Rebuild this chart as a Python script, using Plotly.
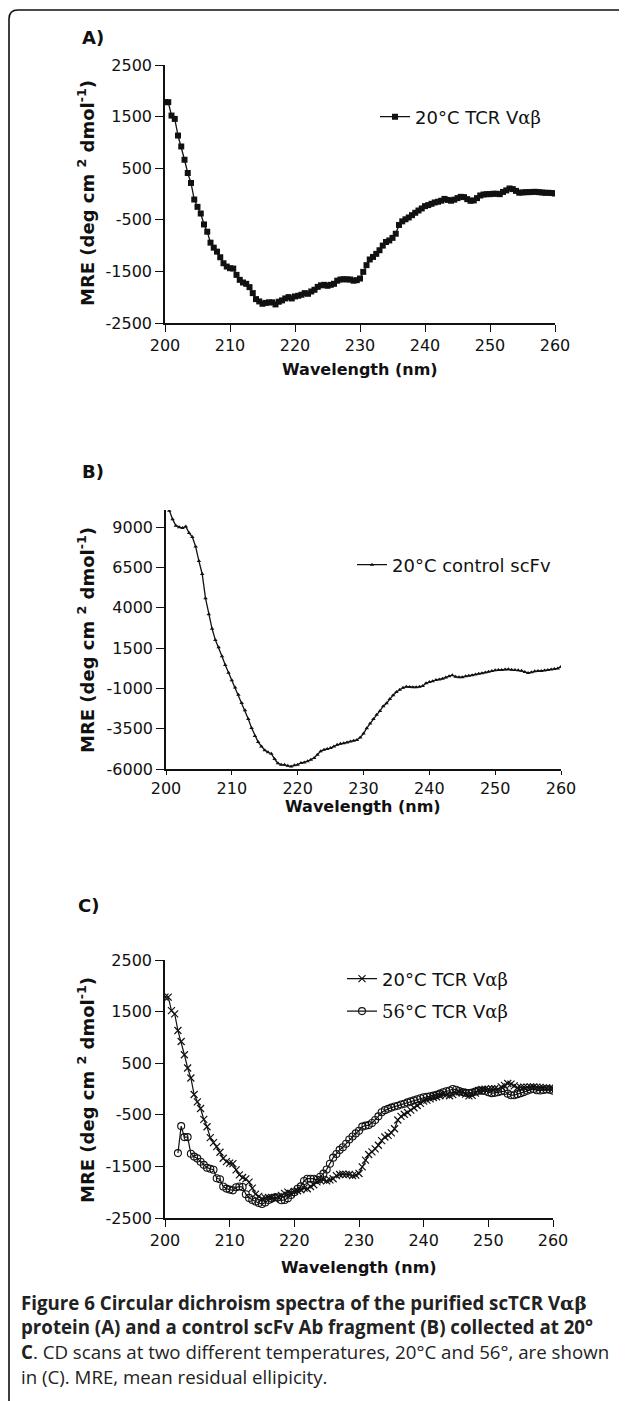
import plotly.graph_objects as go

# ---------------- data ----------------
WAVELENGTH = [200.0, 200.5, 201.0, 201.5, 202.0, 202.5, 203.0, 203.5, 204.0, 204.5,
              205.0, 205.5, 206.0, 206.5, 207.0, 207.5, 208.0, 208.5, 209.0, 209.5,
              210.0, 210.5, 211.0, 211.5, 212.0, 212.5, 213.0, 213.5, 214.0, 214.5,
              215.0, 215.5, 216.0, 216.5, 217.0, 217.5, 218.0, 218.5, 219.0, 219.5,
              220.0, 220.5, 221.0, 221.5, 222.0, 222.5, 223.0, 223.5, 224.0, 224.5,
              225.0, 225.5, 226.0, 226.5, 227.0, 227.5, 228.0, 228.5, 229.0, 229.5,
              230.0, 230.5, 231.0, 231.5, 232.0, 232.5, 233.0, 233.5, 234.0, 234.5,
              235.0, 235.5, 236.0, 236.5, 237.0, 237.5, 238.0, 238.5, 239.0, 239.5,
              240.0, 240.5, 241.0, 241.5, 242.0, 242.5, 243.0, 243.5, 244.0, 244.5,
              245.0, 245.5, 246.0, 246.5, 247.0, 247.5, 248.0, 248.5, 249.0, 249.5,
              250.0, 250.5, 251.0, 251.5, 252.0, 252.5, 253.0, 253.5, 254.0, 254.5,
              255.0, 255.5, 256.0, 256.5, 257.0, 257.5, 258.0, 258.5, 259.0, 259.5,
              260.0]

TCR_20C = [1780, 1780, 1520, 1455, 1133, 921, 664, 407, 214, -107,
           -249, -378, -590, -731, -943, -1040, -1117, -1226, -1342, -1406,
           -1438, -1445, -1567, -1664, -1715, -1741, -1805, -1921, -2037, -2082,
           -2127, -2110, -2100, -2100, -2140, -2088, -2062, -2024, -1998, -2024,
           -1985, -1972, -1953, -1921, -1934, -1889, -1856, -1800, -1770, -1760,
           -1779, -1760, -1740, -1680, -1657, -1651, -1655, -1657, -1680, -1670,
           -1638, -1509, -1379, -1269, -1220, -1160, -1090, -1000, -930, -900,
           -850, -770, -600, -530, -490, -455, -410, -364, -320, -280,
           -235, -215, -190, -164, -150, -130, -95, -115, -130, -110,
           -80, -55, -60, -100, -132, -125, -80, -29, -10, -3,
           -3, 5, 5, -3, 40, 70, 107, 95, 60, 25,
           30, 36, 36, 40, 42, 36, 30, 23, 23, 18,
           10]

SCFV_20C = [10600, 10030, 9500, 9100, 9000, 8950, 9050, 8650, 8400, 7800,
            6900, 6100, 4600, 3600, 2700, 2000, 1550, 1000, 450, -30,
            -500, -950, -1400, -1900, -2350, -2900, -3450, -3950, -4330, -4600,
            -4830, -4960, -5050, -5380, -5650, -5730, -5740, -5800, -5850, -5770,
            -5730, -5630, -5590, -5520, -5420, -5320, -5110, -4900, -4800, -4760,
            -4700, -4600, -4500, -4440, -4400, -4350, -4290, -4250, -4200, -4050,
            -3800, -3470, -3180, -2900, -2640, -2400, -2100, -1920, -1650, -1420,
            -1220, -1080, -960, -890, -910, -925, -925, -900, -850, -680,
            -600, -550, -480, -440, -400, -330, -240, -180, -280, -305,
            -300, -250, -210, -180, -130, -90, -56, -10, 40, 87,
            120, 150, 150, 170, 190, 155, 140, 120, 90, 20,
            -50, 0, 60, 87, 87, 110, 150, 180, 200, 240,
            350]

TCR_56C = [-1242, -719, -932, -932, -1254, -1310,
           -1345, -1410, -1470, -1525, -1545, -1564, -1730, -1750, -1890, -1930,
           -1950, -1964, -1905, -1890, -1900, -2040, -2110, -2150, -2180, -2210,
           -2230, -2200, -2150, -2120, -2100, -2100, -2157, -2150, -2115, -2055,
           -2000, -1932, -1887, -1783, -1738, -1738, -1738, -1758, -1700, -1640,
           -1560, -1450, -1330, -1260, -1180, -1130, -1060, -980, -920, -860,
           -810, -730, -710, -700, -660, -600, -530, -450, -410, -385,
           -360, -340, -325, -300, -285, -260, -240, -220, -200, -180,
           -160, -150, -140, -129, -110, -90, -64, -45, -30, 0,
           -15, -40, -60, -75, -80, -70, -50, -32, -32, -40,
           -64, -80, -75, -64, -45, -40, -90, -120, -120, -100,
           -80, -60, -35, -10, 0, -25, -30, -19, -10, -15,
           -32]
WAVELENGTH_56C = WAVELENGTH[4:]

X_TICKS = [200, 210, 220, 230, 240, 250, 260]
Y_TICKS_A = [2500, 1500, 500, -500, -1500, -2500]
Y_TICKS_B = [9000, 6500, 4000, 1500, -1000, -3500, -6000]
Y_TICKS_C = [2500, 1500, 500, -500, -1500, -2500]

GREEK = "<span style='font-family:DejaVu Serif'>αβ</span>"
LEG_A = "20°C TCR V" + GREEK
LEG_B = "20°C control scFv"
LEG_C1 = "20°C TCR V" + GREEK
LEG_C2 = "<span style='font-family:DejaVu Serif'>56</span>°C TCR V" + GREEK

# ---------------- layout helpers (page pixel -> paper) ----------------
# the page body has an 8 px default margin, so the figure starts at (8, 8)
OFF = 8
W, H = 619, 1393
def fx(p):
    return (p - OFF) / W
def fy(p):
    return 1 - (p - OFF) / H

SANS = "DejaVu Sans"
AX_FONT = dict(family=SANS, size=16, color="#111")
INK = "#111"

fig = go.Figure()

fig.add_trace(go.Scatter(x=WAVELENGTH, y=TCR_20C, mode="lines+markers", name=LEG_A,
                         line=dict(color=INK, width=1.3),
                         marker=dict(symbol="square", size=6, color=INK),
                         xaxis="x", yaxis="y", legend="legend"))
fig.add_trace(go.Scatter(x=WAVELENGTH, y=SCFV_20C, mode="lines+markers", name=LEG_B,
                         line=dict(color=INK, width=1.3),
                         marker=dict(symbol="triangle-up", size=4, color=INK),
                         xaxis="x2", yaxis="y2", legend="legend2"))
fig.add_trace(go.Scatter(x=WAVELENGTH, y=TCR_20C, mode="lines+markers", name=LEG_C1,
                         line=dict(color=INK, width=1.2),
                         marker=dict(symbol="x-thin", size=7, color=INK,
                                     line=dict(color=INK, width=1.2)),
                         xaxis="x3", yaxis="y3", legend="legend3", legendgroup="g1"))
fig.add_trace(go.Scatter(x=WAVELENGTH_56C, y=TCR_56C, mode="lines+markers", name=LEG_C2,
                         line=dict(color=INK, width=1.2),
                         marker=dict(symbol="circle-open", size=7, color=INK,
                                     line=dict(color=INK, width=1.1)),
                         xaxis="x3", yaxis="y3", legend="legend3", legendgroup="g2"))

def xax(left, right, anchor, tlen=7):
    return dict(domain=[fx(left), fx(right)], range=[200, 260], anchor=anchor,
                tickmode="array", tickvals=X_TICKS, ticktext=[str(v) for v in X_TICKS],
                ticks="outside", ticklen=tlen,
                tickwidth=1.4, tickcolor=INK, showline=True, linecolor=INK,
                linewidth=1.6, showgrid=False, zeroline=False, tickfont=AX_FONT,
                automargin=False, fixedrange=True)

def yax(top, bottom, rng, ticks, anchor):
    return dict(domain=[fy(bottom), fy(top)], range=rng, anchor=anchor,
                tickmode="array", tickvals=ticks, ticktext=[str(v) for v in ticks],
                ticks="outside", ticklen=8,
                tickwidth=1.4, tickcolor=INK, showline=True, linecolor=INK,
                linewidth=1.6, showgrid=False, zeroline=False, tickfont=AX_FONT,
                automargin=False, fixedrange=True)

fig.update_layout(
    template="none",
    width=W, height=H, margin=dict(l=0, r=0, t=0, b=0, pad=0, autoexpand=False),
    paper_bgcolor="white", plot_bgcolor="rgba(0,0,0,0)", showlegend=True,
    xaxis=xax(165, 555, "y"), yaxis=yax(65, 323, [-2500, 2500], Y_TICKS_A, "x"),
    xaxis2=xax(166, 561, "y2", tlen=4), yaxis2=yax(510, 769, [-6000, 10070], Y_TICKS_B, "x2"),
    xaxis3=xax(165, 553, "y3"), yaxis3=yax(960, 1218, [-2500, 2500], Y_TICKS_C, "x3"),
)

LEG_FONT = dict(family=SANS, size=18, color="#111")
def legend(xp, yp, gap=0):
    return dict(x=fx(xp), y=fy(yp), xanchor="left", yanchor="middle",
                bgcolor="rgba(0,0,0,0)", font=LEG_FONT, tracegroupgap=gap,
                itemwidth=30, borderwidth=0)
fig.update_layout(legend=legend(375, 117), legend2=legend(352, 565),
                  legend3=legend(342, 995, gap=6))

ann = []
TITLE_FONT = dict(family=SANS, size=18, color="#111")
YT = "<b>MRE (deg cm <sup>2</sup> dmol<sup>-1</sup>)</b>"
for (xc, yc) in [(86, 193), (86, 640), (86, 1090)]:
    ann.append(dict(text=YT, x=fx(xc), y=fy(yc), xref="paper", yref="paper",
                    textangle=-90, showarrow=False, font=TITLE_FONT,
                    xanchor="center", yanchor="middle"))
for (xc, yc) in [(360, 370), (363, 806), (359, 1267)]:
    ann.append(dict(text="<b>Wavelength (nm)</b>", x=fx(xc), y=fy(yc), xref="paper",
                    yref="paper", showarrow=False,
                    font=dict(family=SANS, size=16, color="#111"),
                    xanchor="center", yanchor="middle"))
for (lab, xc, yc) in [("A)", 93, 37), ("B)", 93, 472), ("C)", 88, 905)]:
    ann.append(dict(text="<b>" + lab + "</b>", x=fx(xc), y=fy(yc), xref="paper",
                    yref="paper", showarrow=False,
                    font=dict(family=SANS, size=18, color="#111"),
                    xanchor="center", yanchor="middle"))

caption = [
    "<b>Figure 6 Circular dichroism spectra of the purified scTCR V<span style='font-family:DejaVu Serif'>αβ</span></b>",
    "<b>protein (A) and a control scFv Ab fragment (B) collected at 20°</b>",
    "<b>C</b>. CD scans at two different temperatures, 20°C and 56°, are shown",
    "in (C). MRE, mean residual ellipicity.",
]
for i, line in enumerate(caption):
    ann.append(dict(text=line, x=fx(19), y=fy(1302 + 24.7 * i), xref="paper",
                    yref="paper", showarrow=False,
                    font=dict(family="Open Sans", size=18.7, color="#222"),
                    xanchor="left", yanchor="middle", align="left"))
fig.update_layout(annotations=ann)

# frame: rounded top-left corner, top edge and left edge
path = "M {:.5f},{:.5f} L {:.5f},{:.5f} Q {:.5f},{:.5f} {:.5f},{:.5f} L {:.5f},{:.5f}".format(
    fx(9), fy(1401), fx(9), fy(19), fx(9), fy(10), fx(18), fy(10), fx(625), fy(10))
fig.add_shape(type="path", path=path, xref="paper", yref="paper",
              line=dict(color="#111", width=1.6))

fig.write_html("out.html", config={"displayModeBar": False})
